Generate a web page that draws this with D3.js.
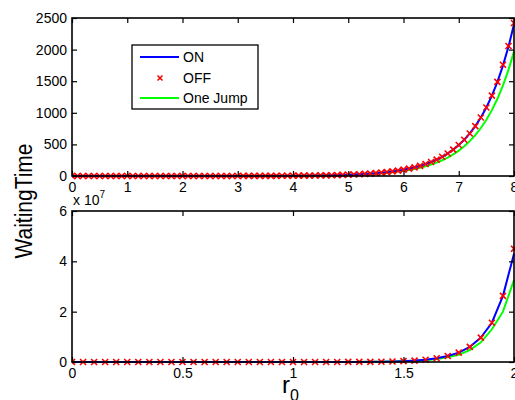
<!DOCTYPE html>
<html><head><meta charset="utf-8">
<script src="https://cdn.jsdelivr.net/npm/d3@7/dist/d3.min.js"></script>
<style>
body{margin:0;background:#fff;}
text{font-family:"Liberation Sans",Arial,sans-serif;fill:#000;}
</style></head><body>
<svg id="c" width="515" height="400"></svg>
<script>
// ---- data ----
const topX = [0,0.1,0.2,0.3,0.4,0.5,0.6,0.7,0.8,0.9,
  1,1.1,1.2,1.3,1.4,1.5,1.6,1.7,1.8,1.9,
  2,2.1,2.2,2.3,2.4,2.5,2.6,2.7,2.8,2.9,
  3,3.1,3.2,3.3,3.4,3.5,3.6,3.7,3.8,3.9,
  4,4.1,4.2,4.3,4.4,4.5,4.6,4.7,4.8,4.9,
  5,5.1,5.2,5.3,5.4,5.5,5.6,5.7,5.8,5.9,
  6,6.1,6.2,6.3,6.4,6.5,6.6,6.7,6.8,6.9,
  7,7.1,7.2,7.3,7.4,7.5,7.6,7.7,7.8,7.9,
  8];
const topON = [0.007,0.008,0.01,0.011,0.013,0.015,0.018,0.02,0.025,0.03,
  0.035,0.04,0.05,0.06,0.07,0.08,0.09,0.11,0.13,0.15,
  0.18,0.21,0.24,0.28,0.33,0.39,0.46,0.53,0.63,0.73,
  0.86,1.0,1.2,1.4,1.6,1.9,2.2,2.6,3.1,3.6,
  4.2,4.9,5.7,6.7,7.9,9.2,10.8,12.6,14.8,17.4,
  20.4,23.9,28,32.8,38.5,45,53,62,73,85,
  100,117,137,161,189,221,259,304,356,418,
  490,574,673,789,925,1084,1271,1490,1746,2047,
  2400];
const topOFF = [0.007,0.008,0.01,0.011,0.013,0.015,0.018,0.02,0.025,0.03,
  0.035,0.04,0.05,0.06,0.07,0.08,0.09,0.11,0.13,0.15,
  0.18,0.21,0.24,0.28,0.33,0.39,0.46,0.53,0.63,0.73,
  0.86,1.0,1.2,1.4,1.6,1.9,2.2,2.6,3.1,3.6,
  4.2,4.9,5.7,6.7,7.9,9.2,10.8,12.6,14.8,17.4,
  20.4,23.9,28,32.8,38.5,45,53,62,73,85,
  100,117,137,161,189,221,259,304,356,418,
  490,574,673,789,925,1084,1271,1490,1760,2057,
  2420];
const topJump = [0.006,0.007,0.008,0.009,0.011,0.012,0.015,0.016,0.02,0.025,
  0.029,0.033,0.041,0.049,0.057,0.066,0.074,0.09,0.11,0.12,
  0.15,0.17,0.2,0.23,0.27,0.32,0.38,0.43,0.52,0.6,
  0.71,0.82,0.98,1.1,1.3,1.6,1.8,2.1,2.5,3.0,
  3.4,4.0,4.7,5.5,6.5,7.5,8.9,10.3,12.1,14.3,
  16.7,19.6,23,26.9,31.6,37,43,51,60,70,
  82,96,112,132,155,181,212,249,292,343,
  402,471,552,647,759,889,1042,1222,1432,1679,
  1968];
const topXTicks = [0,1,2,3,4,5,6,7,8];
const topYTicks = [0,500,1000,1500,2000,2500];

const botX = [0,0.05,0.1,0.15,0.2,0.25,0.3,0.35,0.4,0.45,
  0.5,0.55,0.6,0.65,0.7,0.75,0.8,0.85,0.9,0.95,
  1,1.05,1.1,1.15,1.2,1.25,1.3,1.35,1.4,1.45,
  1.5,1.55,1.6,1.65,1.7,1.75,1.8,1.85,1.9,1.95,
  2];
const botON = [0.04,0.07,0.1,0.2,0.4,0.6,1.1,1.8,3.1,5.3,
  9,15,26,45,76,130,220,380,640,1100,
  1800,3100,5300,9000,15000,25000,40000,70000,120000,200000,
  330000,550000,900000,1.5e6,2.4e6,3.7e6,6.0e6,9.7e6,1.56e7,2.63e7,
  4.3e7];
const botOFF = [0.04,0.07,0.1,0.2,0.4,0.6,1.1,1.8,3.1,5.3,
  9,15,26,45,76,130,220,380,640,1100,
  1800,3100,5300,9000,15000,25000,40000,70000,120000,200000,
  330000,550000,900000,1.5e6,2.4e6,3.7e6,6.0e6,9.7e6,1.56e7,2.63e7,
  4.5e7];
const botJump = [0.03,0.05,0.08,0.15,0.3,0.5,0.85,1.4,2.4,4.1,
  7,12,20,35,59,100,170,300,500,860,
  1400,2400,4100,7000,11700,19500,31000,55000,94000,156000,
  250000,420000,700000,1.15e6,1.85e6,2.9e6,4.7e6,7.8e6,1.3e7,2.0e7,
  3.26e7];
const botXTicks = [0,0.5,1,1.5,2];
const botYTicks = [0,2e7,4e7,6e7];

const legendLabels = ["ON","OFF","One Jump"];
const colors = {on:"#0000ff", off:"#ff0000", jump:"#00ff00"};

// ---- drawing ----
const svg = d3.select("#c");
const L = 72, R = 514;

function panel(cfg){
  const x = d3.scaleLinear().domain(cfg.xd).range([L,R]);
  const y = d3.scaleLinear().domain(cfg.yd).range([cfg.bottom,cfg.top]);
  const g = svg.append("g");
  const clipId = "clip"+cfg.id;
  g.append("clipPath").attr("id",clipId).append("rect")
    .attr("x",L).attr("y",cfg.top-6).attr("width",R-L+6).attr("height",cfg.bottom-cfg.top+12);
  const line = (xs,ys)=>d3.line().x((d,i)=>x(xs[i])).y((d,i)=>y(ys[i]))(ys);
  const dg = g.append("g").attr("clip-path","url(#"+clipId+")");
  dg.append("path").attr("d",line(cfg.xs,cfg.jump)).attr("fill","none")
    .attr("stroke",colors.jump).attr("stroke-width",2);
  dg.append("path").attr("d",line(cfg.xs,cfg.on)).attr("fill","none")
    .attr("stroke",colors.on).attr("stroke-width",2);
  const s=3;
  dg.selectAll("path.m").data(cfg.off).enter().append("path").attr("class","m")
    .attr("d",(d,i)=>{const px=x(cfg.xs[i]),py=y(d);
      return `M${px-s},${py-s}L${px+s},${py+s}M${px-s},${py+s}L${px+s},${py-s}`;})
    .attr("stroke",colors.off).attr("stroke-width",1.6).attr("fill","none");

  // axes with inward ticks on all sides
  const tl = 5;
  const ax = [
    d3.axisBottom(x).tickValues(cfg.xt).tickSize(-tl).tickPadding(6).tickFormat(cfg.xf),
    d3.axisTop(x).tickValues(cfg.xt).tickSize(-tl).tickFormat(""),
    d3.axisLeft(y).tickValues(cfg.yt).tickSize(-tl).tickPadding(5).tickFormat(cfg.yf),
    d3.axisRight(y).tickValues(cfg.yt).tickSize(-tl).tickFormat("")
  ];
  const pos = [[0,cfg.bottom],[0,cfg.top],[L,0],[R,0]];
  ax.forEach((a,i)=>{
    const ag = g.append("g").attr("transform",`translate(${pos[i][0]},${pos[i][1]})`).call(a);
    ag.select(".domain").remove();
    ag.selectAll("line").attr("stroke","#000").attr("stroke-width",1.2);
    ag.selectAll("text").style("font-size","14px").style("font-family","Liberation Sans, Arial, sans-serif").attr("fill","#000");
  });
  g.append("rect").attr("x",L).attr("y",cfg.top).attr("width",R-L).attr("height",cfg.bottom-cfg.top)
    .attr("fill","none").attr("stroke","#000").attr("stroke-width",1.6);
  return {x,y,g};
}

const topP = panel({id:"t",xd:[0,8],yd:[0,2500],top:18,bottom:176,xs:topX,on:topON,off:topOFF,jump:topJump,
  xt:topXTicks,yt:topYTicks,xf:d3.format("d"),yf:d3.format("d")});
const botP = panel({id:"b",xd:[0,2],yd:[0,6e7],top:211,bottom:362,xs:botX,on:botON,off:botOFF,jump:botJump,
  xt:botXTicks,yt:botYTicks,xf:d=>String(d),yf:d=>String(d/1e7)});

// exponent label
const ex = svg.append("text").attr("x",73).attr("y",205).style("font-size","14px");
ex.append("tspan").text("x 10");
ex.append("tspan").attr("dy",-7).style("font-size","10px").text("7");

// legend
const lg = svg.append("g");
lg.append("rect").attr("x",132).attr("y",45).attr("width",126).attr("height",64)
  .attr("fill","#fff").attr("stroke","#000").attr("stroke-width",1.3);
const ly = [57,78,98];
legendLabels.forEach((t,i)=>{
  if(i===1){
    const px=160, py=ly[i], s=2.5;
    lg.append("path").attr("d",`M${px-s},${py-s}L${px+s},${py+s}M${px-s},${py+s}L${px+s},${py-s}`)
      .attr("stroke",colors.off).attr("stroke-width",1.5);
  } else {
    lg.append("line").attr("x1",140).attr("x2",179).attr("y1",ly[i]).attr("y2",ly[i])
      .attr("stroke",i===0?colors.on:colors.jump).attr("stroke-width",2);
  }
  lg.append("text").attr("x",183).attr("y",ly[i]).attr("dy","0.36em").style("font-size","14px").text(t);
});

// axis titles
svg.append("text").attr("transform","translate(32,201) rotate(-90) scale(1,1.1)").attr("text-anchor","middle")
  .style("font-size","21px").text("WaitingTime");
const xl = svg.append("text").attr("x",282).attr("y",393).style("font-size","24px");
xl.append("tspan").text("r");
xl.append("tspan").attr("dy",8).style("font-size","16px").text("0");
</script>
</body></html>
